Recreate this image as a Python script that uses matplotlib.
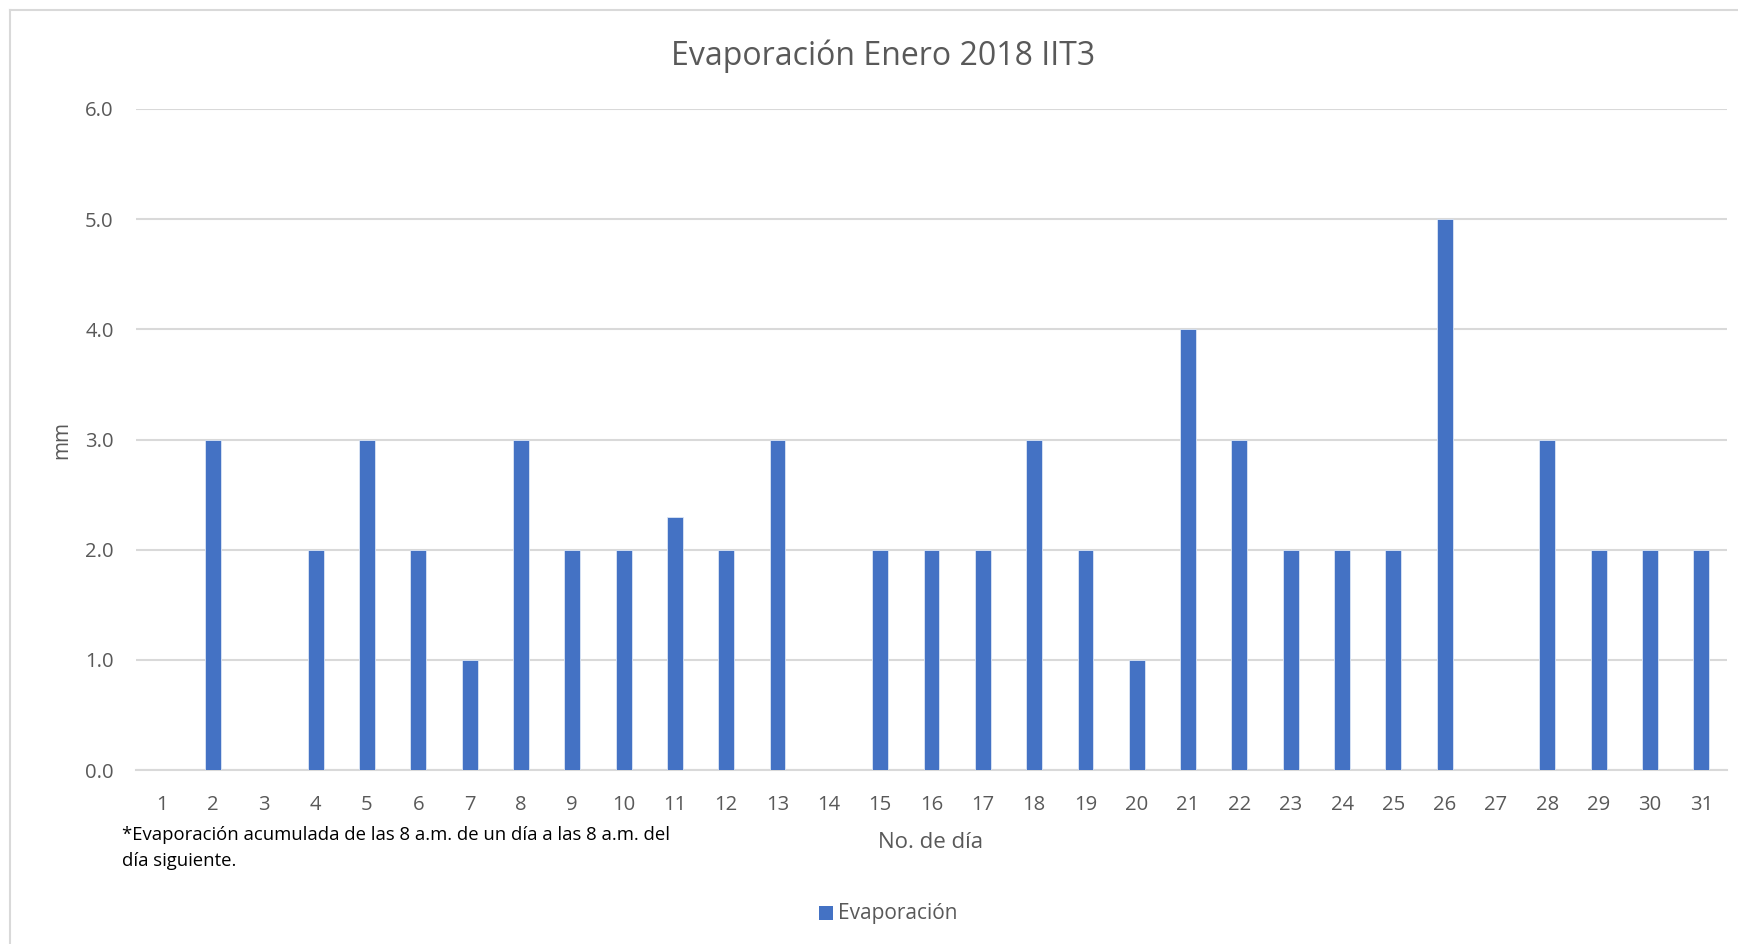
import matplotlib
matplotlib.use('Agg')
import matplotlib.pyplot as plt
from matplotlib.lines import Line2D
from matplotlib.patches import Rectangle

# Evaporation per day, January 2018 (mm)
days = list(range(1, 32))
evaporacion = [0, 3, 0, 2, 3, 2, 1, 3, 2, 2,
               2.3, 2, 3, 0, 2, 2, 2, 3, 2, 1,
               4, 3, 2, 2, 2, 5, 0, 3, 2, 2, 2]
y_ticks = [0, 1, 2, 3, 4, 5, 6]

BAR = '#4472C4'
TEXT = '#595959'
GRID = '#D9D9D9'

plt.rcParams['font.family'] = ['Open Sans', 'DejaVu Sans']

W, H = 1738, 944
fig = plt.figure(figsize=(W / 100, H / 100), dpi=100)
ax = fig.add_axes([136 / W, 1 - 770 / H, (1727 - 136) / W, (770 - 109) / H])

ax.bar(days, evaporacion, width=0.31, color=BAR, edgecolor='#DCE6F5', linewidth=0.6,
       zorder=3, label='Evaporación')

ax.set_xlim(0.5, 31.5)
ax.set_ylim(0, 6)
ax.set_yticks(y_ticks)
ax.set_yticklabels([f'{v:.1f}' for v in y_ticks])
ax.set_xticks(days)
ax.set_xticklabels([str(d) for d in days])
ax.tick_params(axis='both', length=0, labelsize=14.6, labelcolor=TEXT)
ax.tick_params(axis='y', pad=16)
ax.tick_params(axis='x', pad=18)
ax.grid(axis='y', color=GRID, linewidth=1.5, zorder=0)
for side in ['top', 'right', 'left']:
    ax.spines[side].set_visible(False)
ax.spines['bottom'].set_color(GRID)
ax.spines['bottom'].set_linewidth(1.5)

fig.text(62 / W, 1 - 440 / H, 'mm', rotation=90, ha='center', va='center',
         fontsize=15, color=TEXT)

fig.text(883 / W, 1 - 56 / H, 'Evaporación Enero 2018 IIT3', ha='center', va='center',
         fontsize=23, color=TEXT)
fig.text(931 / W, 1 - 843 / H, 'No. de día', ha='center', va='center',
         fontsize=16, color=TEXT)
fig.text(122 / W, 1 - 835 / H, '*Evaporación acumulada de las 8 a.m. de un día a las 8 a.m. del',
         ha='left', va='center', fontsize=13.3, color='black')
fig.text(122 / W, 1 - 861 / H, 'día siguiente.',
         ha='left', va='center', fontsize=13.3, color='black')

# legend
fig.patches.append(Rectangle((819 / W, 1 - 920 / H), 14 / W, 14 / H, transform=fig.transFigure,
                             facecolor=BAR, edgecolor='none'))
fig.text(838 / W, 1 - 914 / H, 'Evaporación', ha='left', va='center', fontsize=15, color=TEXT)

# chart frame (cropped at right and bottom)
fig.lines.append(Line2D([9.5 / W, 9.5 / W], [1 - 10 / H, 0], transform=fig.transFigure,
                        color=GRID, linewidth=1.5))
fig.lines.append(Line2D([9.5 / W, 1], [1 - 10 / H, 1 - 10 / H], transform=fig.transFigure,
                        color=GRID, linewidth=1.5))

fig.savefig('out.png', dpi=100, facecolor='white')
